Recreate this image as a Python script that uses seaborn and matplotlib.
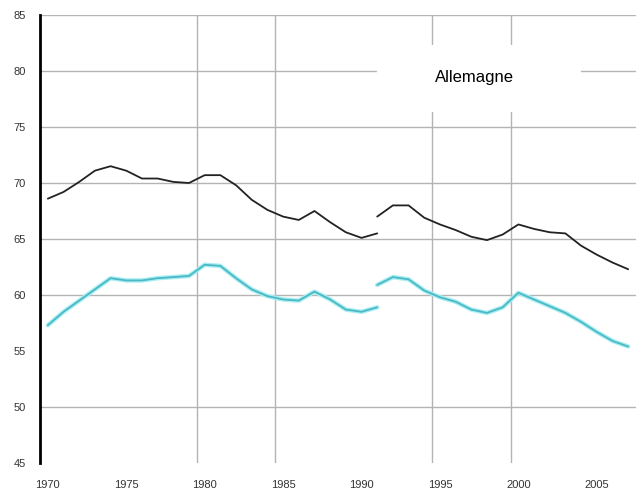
import matplotlib
matplotlib.use("Agg")
import matplotlib.pyplot as plt
from matplotlib.patches import Rectangle
import numpy as np
import pandas as pd
import seaborn as sns

# data (West Germany up to 1991, unified Germany from 1991)
years_west = list(range(1970, 1992))
black_west = [68.6, 69.2, 70.1, 71.1, 71.5, 71.1, 70.4, 70.4, 70.1, 70.0, 70.7,
              70.7, 69.8, 68.5, 67.6, 67.0, 66.7, 67.5, 66.5, 65.6, 65.1, 65.5]
cyan_west = [57.3, 58.5, 59.5, 60.5, 61.5, 61.3, 61.3, 61.5, 61.6, 61.7, 62.7,
             62.6, 61.5, 60.5, 59.9, 59.6, 59.5, 60.3, 59.6, 58.7, 58.5, 58.9]

years_unif = list(range(1991, 2008))
black_unif = [67.0, 68.0, 68.0, 66.9, 66.3, 65.8, 65.2, 64.9, 65.4, 66.3, 65.9,
              65.6, 65.5, 64.4, 63.6, 62.9, 62.3]
cyan_unif = [60.9, 61.6, 61.4, 60.4, 59.8, 59.4, 58.7, 58.4, 58.9, 60.2, 59.6,
             59.0, 58.4, 57.6, 56.7, 55.9, 55.4]

ytick_vals = [45, 50, 55, 60, 65, 70, 75, 80, 85]
ygrid_vals = [50, 60, 65, 70, 75, 80, 85]   # 55 line not visible in the reference
xlabel_years = [1970, 1975, 1980, 1985, 1990, 1995, 2000, 2005]
xgrid_pos = [1979.5, 1984.5, 1994.5, 1999.5]
title = "Allemagne"

sns.set_style("white")
plt.rcParams['font.family'] = ['Liberation Sans', 'DejaVu Sans']

fig = plt.figure(figsize=(6.36, 4.91), dpi=100)
ax = fig.add_axes([40/636, 1 - 463/491, 1 - 40/636, (463 - 15)/491])

segments = [
    (years_west, black_west, '#222222', 1.3),
    (years_unif, black_unif, '#222222', 1.3),
    (years_west, cyan_west, '#a6eef3', 3.2),
    (years_unif, cyan_unif, '#a6eef3', 3.2),
    (years_west, cyan_west, '#4bb8c4', 1.3),
    (years_unif, cyan_unif, '#4bb8c4', 1.3),
]
for xs, ys, col, lw in segments:
    df = pd.DataFrame({'year': xs, 'val': ys})
    sns.lineplot(data=df, x='year', y='val', ax=ax, color=col, lw=lw, zorder=3)

ax.set_xlim(1969.5, 2007.5)
ax.set_ylim(45, 85)

# gridlines
for g in ygrid_vals:
    ax.axhline(g, color='#b4b4b4', lw=1.0, zorder=1)
for g in xgrid_pos:
    ax.axvline(g, color='#b4b4b4', lw=1.0, zorder=1)

ax.set_yticks(ytick_vals)
ax.set_yticklabels([str(v) for v in ytick_vals], fontsize=8, color='#333333')
ax.set_xticks(xlabel_years)
ax.set_xticklabels([str(v) for v in xlabel_years], fontsize=8, color='#333333')
ax.set_xticks(xgrid_pos, minor=True)
ax.tick_params(axis='x', which='major', length=0, pad=12)
ax.tick_params(axis='x', which='minor', length=4, width=1, color='black', direction='out')
ax.tick_params(axis='y', which='major', length=3, width=1, color='black', direction='out', pad=7)

ax.set_xlabel('')
ax.set_ylabel('')
for s in ['top', 'right', 'bottom']:
    ax.spines[s].set_visible(False)
ax.spines['left'].set_color('black')
ax.spines['left'].set_linewidth(2)

# white label box covering the grid behind the title
ax.add_patch(Rectangle((1991.0, 76.3), 13.0, 6.0, facecolor='white', edgecolor='none', zorder=2))
ax.text(1997.2, 79.4, title, fontsize=12, color='black', ha='center', va='center', zorder=4)

fig.savefig('out.png', dpi=100)
